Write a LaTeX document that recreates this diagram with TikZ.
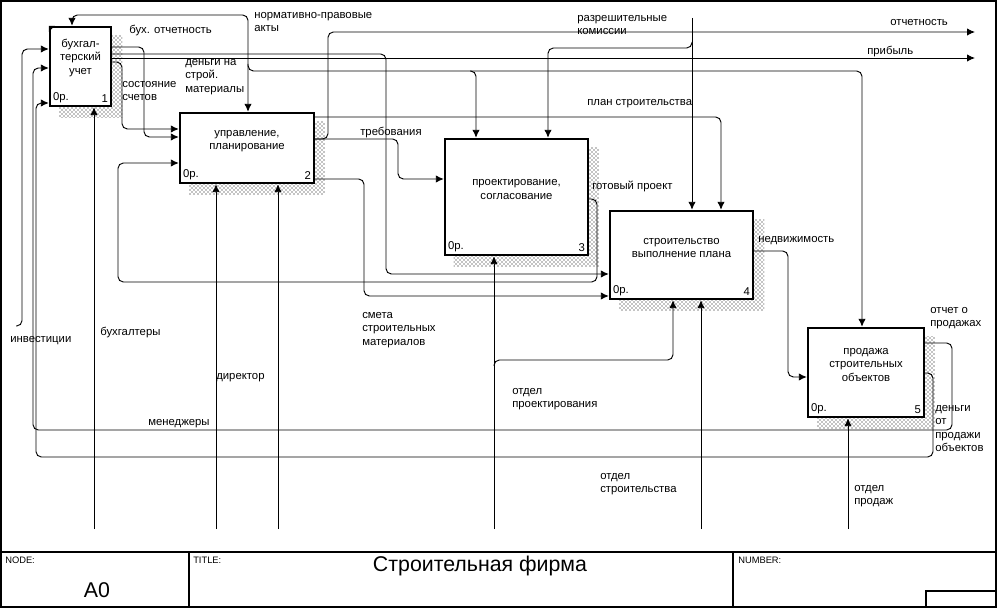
\documentclass[tikz,border=0pt]{standalone}
\usepackage{fontspec}
\setmainfont{Liberation Sans}
\usetikzlibrary{arrows.meta,patterns,backgrounds}

\begin{document}
\begin{tikzpicture}[x=0.75pt,y=-0.75pt,
  >={Latex[length=6pt,width=5.5pt]},
  every node/.style={font=\fontsize{8.5}{10}\selectfont},
  fbox/.style={draw,line width=1.8pt,fill=white,inner sep=0pt},
  lbl/.style={inner sep=0pt,anchor=north west,align=left},
  arr/.style={->,line width=0.7pt,rounded corners=4pt},
  small/.style={lbl,font=\fontsize{7}{8}\selectfont},
  big/.style={font=\fontsize{16}{18}\selectfont}]

\useasboundingbox (0,0) rectangle (1007,616);
\draw[line width=0.8pt] (1,1) rectangle (996,607);
\draw[line width=0.8pt] (1,552) -- (996,552);
\draw[line width=0.8pt] (189,552) -- (189,607);
\draw[line width=0.8pt] (733,552) -- (733,607);
\draw[line width=0.8pt] (926,591) rectangle (996,607);

\node[small] (nodelbl) at (5,557) {NODE:};
\node[big] (nodeid) at (97,590) {A0};
\node[small] (titlelbl) at (193,557) {TITLE:};
\node[big] (title) at (480,566) {Строительная фирма};
\node[small] (numlbl) at (738,557) {NUMBER:};

\node[fbox,minimum width=45.75pt,minimum height=59.25pt] (b1) at (80.5,66.5) {};
\node[fbox,minimum width=100.5pt,minimum height=52.5pt] (b2) at (247,148) {};
\node[fbox,minimum width=107.25pt,minimum height=87pt] (b3) at (516.5,197) {};
\node[fbox,minimum width=107.25pt,minimum height=66pt] (b4) at (681.5,255) {};
\node[fbox,minimum width=87pt,minimum height=66.75pt] (b5) at (866,372.5) {};
\fill (b1.north west) -- ++(6,0) -- ++(-6,6) -- cycle;

\node[align=center] (t1) at (80.5,58) {бухгал-\\терский\\учет};
\node[align=center] (t2) at (247,141) {управление,\\планирование};
\node[align=center] (t3) at (516.5,189.5) {проектирование,\\согласование};
\node[align=center] (t4) at (681.5,248) {строительство\\выполнение плана};
\node[align=center] (t5) at (866,365) {продажа\\строительных\\объектов};

\foreach \i in {1,...,5} {
  \node[anchor=south west,inner sep=3pt] (p\i) at (b\i.south west) {0р.};
  \node[anchor=south east,inner sep=3pt] (k\i) at (b\i.south east) {\i};
}

\begin{scope}[on background layer]
\foreach \i in {1,...,5}
  \fill[pattern=crosshatch dots,pattern color=black] ([shift={(7.5pt,-7.5pt)}]b\i.south west) rectangle ([shift={(7.5pt,-7.5pt)}]b\i.north east);
\end{scope}

\coordinate (inv) at (16,326);
\coordinate (perm) at (692,18);
\coordinate (rep) at (975,32);
\coordinate (prof) at (975,58);
\coordinate (j1) at (248,64);
\coordinate (j2) at (692,42);
\coordinate (j3) at (494,366);
\coordinate (j4) at (470,71);
\coordinate (m1) at (94,529);
\coordinate (m2) at (216,529);
\coordinate (m3) at (278,529);
\coordinate (m4) at (494,529);
\coordinate (m5) at (701,529);
\coordinate (m6) at (848,529);

\draw[arr] (b1.east |- 0,47) -| (144,137) -- (b2.west |- 0,137);
\draw[arr] (b1.east |- 0,62) -| (122,129) -- (b2.west |- 0,129);
\draw[arr] (b1.east |- 0,54) -| (386,274) -- (b4.west |- 0,274);
\draw[arr] (b1.east |- 0,58) -- (prof);
\draw[arr] (b2.east |- 0,139) -| (328,32) -- (rep);
\draw[arr] (b2.east |- 0,139) -| (398,179) -- (b3.west |- 0,179);
\draw[arr] (b2.east |- 0,117) -| (721,0 |- b4.north);
\draw[arr] (b2.east |- 0,179) -| (364,296) -- (b4.west |- 0,296);
\draw[arr] (b3.east |- 0,199) -| (597,282) -| (118,163) -- (b2.west |- 0,163);
\draw[arr] (b4.east |- 0,251) -| (788,377) -- (b5.west |- 0,377);
\draw[arr] (b5.east |- 0,343) -| (952,430) -| (33,68) -- (b1.west |- 0,68);
\draw[arr] (b5.east |- 0,373) -| (933,457) -| (36,103) -- (b1.west |- 0,103);
\draw[arr] (inv) -| (22,49) -- (b1.west |- 0,49);
\draw[arr,<->] (72,0 |- b1.north) |- (248,15) -- (248,0 |- b2.north);
\draw[arr] (j1) |- (862,71) -- (862,0 |- b5.north);
\draw[arr] (j4) -| (476,0 |- b3.north);
\draw[arr] (perm) -- (692,0 |- b4.north);
\draw[arr] (j2) |- (548,48) -- (548,0 |- b3.north);
\draw[arr] (m1) -- (94,0 |- b1.south);
\draw[arr] (m2) -- (216,0 |- b2.south);
\draw[arr] (m3) -- (278,0 |- b2.south);
\draw[arr] (m4) -- (494,0 |- b3.south);
\draw[arr] (m5) -- (701,0 |- b4.south);
\draw[arr] (m6) -- (848,0 |- b5.south);
\draw[arr] (j3) |- (673,360) -- (673,0 |- b4.south);

\node[lbl] (lacc) at (129,25) {бух. отчетность};
\node[lbl] (llaw) at (254,12) {нормативно-правовые\\акты};
\node[lbl] (lperm) at (577,15) {разрешительные\\комиссии};
\node[lbl] (lrep) at (890,19) {отчетность};
\node[lbl] (lprof) at (867,46) {прибыль};
\node[lbl] (lmoney) at (185,59) {деньги на\\строй.\\материалы};
\node[lbl] (lstate) at (122,81) {состояние\\счетов};
\node[lbl] (lreq) at (360,127) {требования};
\node[lbl] (lplan) at (587,99) {план строительства};
\node[lbl] (lproj) at (592,181) {готовый проект};
\node[lbl] (lestate) at (758,236) {недвижимость};
\node[lbl] (lsrep) at (930,307) {отчет о\\продажах};
\node[lbl] (lsmoney) at (935,405) {деньги\\от\\продажи\\объектов};
\node[lbl] (linv) at (10,336) {инвестиции};
\node[lbl] (lacct) at (100,327) {бухгалтеры};
\node[lbl] (ldir) at (216,373) {директор};
\node[lbl] (lman) at (148,419) {менеджеры};
\node[lbl] (lsmeta) at (362,312) {смета\\строительных\\материалов};
\node[lbl] (ldes) at (512,388) {отдел\\проектирования};
\node[lbl] (lcon) at (600,473) {отдел\\строительства};
\node[lbl] (lsal) at (854,485) {отдел\\продаж};

\end{tikzpicture}
\end{document}
